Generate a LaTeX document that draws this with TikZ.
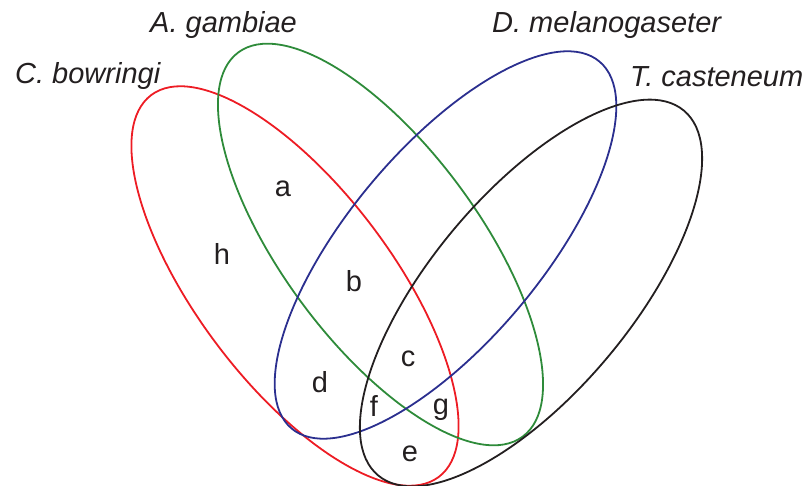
\documentclass[tikz,border=0pt]{standalone}
\usepackage{fontspec}
\setmainfont{Liberation Sans}
\definecolor{vred}{HTML}{ED1C24}
\definecolor{vgreen}{HTML}{2E8B3A}
\definecolor{vblue}{HTML}{2B2F8F}
\definecolor{vblack}{HTML}{231F20}
\definecolor{vtext}{HTML}{231F20}
\begin{document}
\begin{tikzpicture}[x=1pt,y=1pt,
  setline/.style={line width=1.8pt},
  species/.style={anchor=base west,inner sep=0pt,text=vtext,font=\fontsize{29}{34}\selectfont\itshape},
  region/.style={anchor=base,inner sep=0pt,text=vtext,font=\fontsize{29}{34}\selectfont}]
\useasboundingbox (0,0) rectangle (809,486);
% sets
\draw[setline,vred]   (295,200) ellipse [x radius=239,y radius=97.5,rotate=-53];
\draw[setline,vgreen] (380.5,241.5) ellipse [x radius=239,y radius=98,rotate=-53.5];
\draw[setline,vblue]  (445.5,241) ellipse [x radius=239.5,y radius=96.5,rotate=50];
\draw[setline,vblack] (531,193) ellipse [x radius=238,y radius=100,rotate=50];
% species labels
\node[species] (cb) at (15,402) {C. bowringi};
\node[species] (ag) at (150,453) {A. gambiae};
\node[species] (dm) at (492,453) {D. melanogaseter};
\node[species] (tc) at (630,399) {T. casteneum};
% region labels
\node[region] (ra) at (283,289) {a};
\node[region] (rh) at (222,221) {h};
\node[region] (rb) at (354,194) {b};
\node[region] (rc) at (408,119) {c};
\node[region] (rd) at (320,93) {d};
\node[region] (rf) at (374,69) {f};
\node[region] (rg) at (441,71) {g};
\node[region] (re) at (410,24) {e};
\end{tikzpicture}
\end{document}
